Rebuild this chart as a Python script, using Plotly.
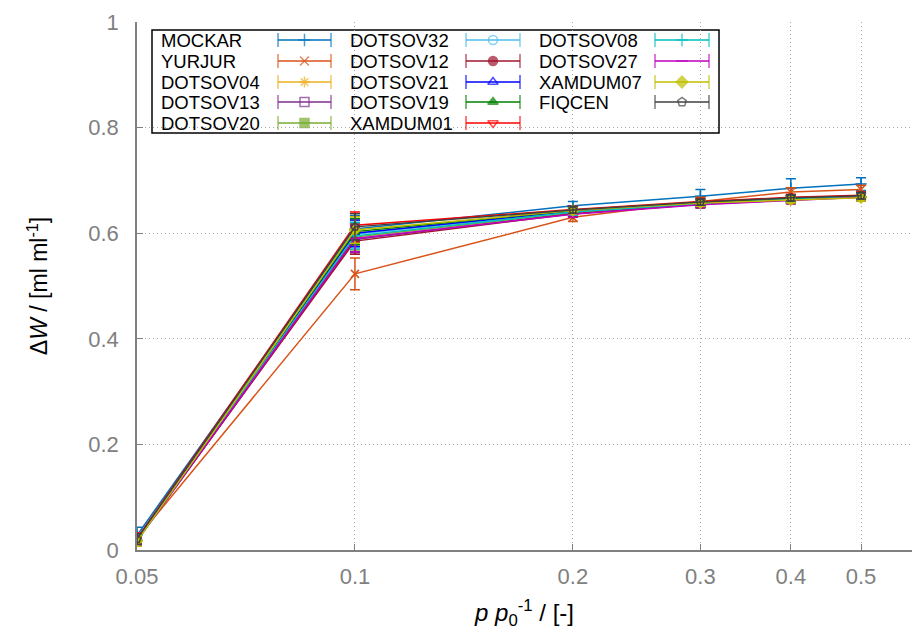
import numpy as np
import plotly.graph_objects as go

# ---------------- data ----------------
x_vals = [0.05, 0.1, 0.2, 0.3, 0.4, 0.5]
names = ["MOCKAR", "YURJUR", "DOTSOV04", "DOTSOV13", "DOTSOV20",
         "DOTSOV32", "DOTSOV12", "DOTSOV21", "DOTSOV19", "XAMDUM01",
         "DOTSOV08", "DOTSOV27", "XAMDUM07", "FIQCEN"]
MOCKAR   = [0.028, 0.608, 0.652, 0.670, 0.685, 0.693]
YURJUR   = [0.022, 0.523, 0.630, 0.660, 0.678, 0.683]
DOTSOV04 = [0.020, 0.600, 0.640, 0.657, 0.665, 0.670]
DOTSOV13 = [0.018, 0.588, 0.638, 0.655, 0.663, 0.668]
DOTSOV20 = [0.017, 0.593, 0.639, 0.656, 0.664, 0.669]
DOTSOV32 = [0.020, 0.598, 0.641, 0.656, 0.664, 0.670]
DOTSOV12 = [0.019, 0.585, 0.637, 0.655, 0.666, 0.671]
DOTSOV21 = [0.021, 0.600, 0.642, 0.657, 0.665, 0.670]
DOTSOV19 = [0.020, 0.603, 0.643, 0.658, 0.666, 0.671]
XAMDUM01 = [0.022, 0.615, 0.645, 0.660, 0.668, 0.672]
DOTSOV08 = [0.019, 0.595, 0.640, 0.656, 0.664, 0.669]
DOTSOV27 = [0.018, 0.590, 0.636, 0.654, 0.662, 0.668]
XAMDUM07 = [0.017, 0.606, 0.643, 0.657, 0.663, 0.667]
FIQCEN   = [0.021, 0.612, 0.644, 0.659, 0.667, 0.671]
series = [MOCKAR, YURJUR, DOTSOV04, DOTSOV13, DOTSOV20, DOTSOV32, DOTSOV12,
          DOTSOV21, DOTSOV19, XAMDUM01, DOTSOV08, DOTSOV27, XAMDUM07, FIQCEN]
err_MOCKAR = [0.015, 0.025, 0.008, 0.013, 0.018, 0.012]
err_YURJUR = [0.010, 0.030, 0.008, 0.008, 0.008, 0.008]
err_other  = [0.010, 0.025, 0.006, 0.006, 0.006, 0.006]
errors = [err_MOCKAR, err_YURJUR] + [err_other] * 12

x_ticks = [0.05, 0.1, 0.2, 0.3, 0.4, 0.5]
x_ticklabels = ["0.05", "0.1", "0.2", "0.3", "0.4", "0.5"]
y_ticks = [0, 0.2, 0.4, 0.6, 0.8, 1.0]
y_ticklabels = ["0", "0.2", "0.4", "0.6", "0.8", "1"]

# ---------------- styles ----------------
colors = ["#0072bd", "#d95319", "#edb120", "#7e2f8e", "#77ac30",
          "#4dbeee", "#a2142f", "#0000ff", "#008000", "#ff0000",
          "#00bfbf", "#bf00bf", "#bfbf00", "#404040"]
symbols = ["cross-thin-open", "x-thin-open", "asterisk-open", "square-open", "square",
           "circle-open", "circle", "triangle-up-open", "triangle-up", "triangle-down-open",
           "cross-thin-open", "line-ew-open", "diamond", "pentagon-open"]

fig = go.Figure()
for name, ys, err, c, s in zip(names, series, errors, colors, symbols):
    fig.add_trace(go.Scatter(
        x=x_vals, y=ys, name=name, mode="lines+markers",
        line=dict(color=c, width=1.5),
        marker=dict(symbol=s, size=8, color=c, line=dict(color=c, width=1.5)),
        error_y=dict(type="data", array=err, visible=True, color=c,
                     thickness=1.5, width=5),
        showlegend=False,
    ))

# ---------------- custom legend (layout in pixel-like helper axes) -------------
col_text_x = [159, 348, 537]
col_line_x = [(278, 331), (466, 520), (655, 709)]
row_y = [40, 61, 82, 102, 123]
for i, (name, c, s) in enumerate(zip(names, colors, symbols)):
    col, row = divmod(i, 5)
    y = row_y[row]
    x0, x1 = col_line_x[col]
    fig.add_trace(go.Scatter(
        x=[x0, (x0 + x1) / 2, x1], y=[y, y, y], xaxis="x2", yaxis="y2",
        mode="lines+markers", showlegend=False, hoverinfo="skip",
        line=dict(color=c, width=1.5),
        marker=dict(symbol=["line-ns-open", s, "line-ns-open"], size=[10, 9, 10],
                    color=c, line=dict(color=c, width=1.5)),
    ))
    fig.add_annotation(x=col_text_x[col], y=y, xref="x2", yref="y2", text=name,
                       showarrow=False, xanchor="left", yanchor="middle",
                       font=dict(size=18.5, color="black"))
fig.add_shape(type="rect", xref="x2", yref="y2", x0=152, x1=719, y0=30, y1=133,
              line=dict(color="black", width=1.5), fillcolor="white", layer="below")

grid = dict(showgrid=True, gridcolor="#a8a8a8", griddash="1px,3px", gridwidth=1)
fig.update_layout(
    width=912, height=636,
    margin=dict(l=137, r=0, t=22, b=86),
    plot_bgcolor="white", paper_bgcolor="white",
    font=dict(family="Liberation Sans, Arial, sans-serif"),
    xaxis=dict(type="log", range=[np.log10(0.05), np.log10(0.588)],
               tickvals=x_ticks, ticktext=x_ticklabels,
               tickfont=dict(size=22, color="#808080"),
               ticks="inside", ticklen=6, tickcolor="#808080",
               showline=True, linecolor="#808080", linewidth=1.5,
               zeroline=False, ticklabelstandoff=6,
               title=dict(text="<i>p p</i><sub>0</sub><sup>-1</sup> / [-]",
                          font=dict(size=24, color="black"), standoff=16),
               **grid),
    yaxis=dict(range=[0, 1], tickvals=y_ticks, ticktext=y_ticklabels,
               tickfont=dict(size=22, color="#808080"),
               ticks="inside", ticklen=6, tickcolor="#808080",
               showline=True, linecolor="#808080", linewidth=1.5,
               zeroline=False, ticklabelstandoff=12,
               title=dict(text="Δ<i>W</i> / [ml ml<sup>-1</sup>]",
                          font=dict(size=23, color="black"), standoff=34),
               **grid),
    xaxis2=dict(overlaying="x", range=[137, 912], visible=False, domain=[0, 1]),
    yaxis2=dict(overlaying="y", range=[550, 22], visible=False),
)
fig.write_html("out.html")
